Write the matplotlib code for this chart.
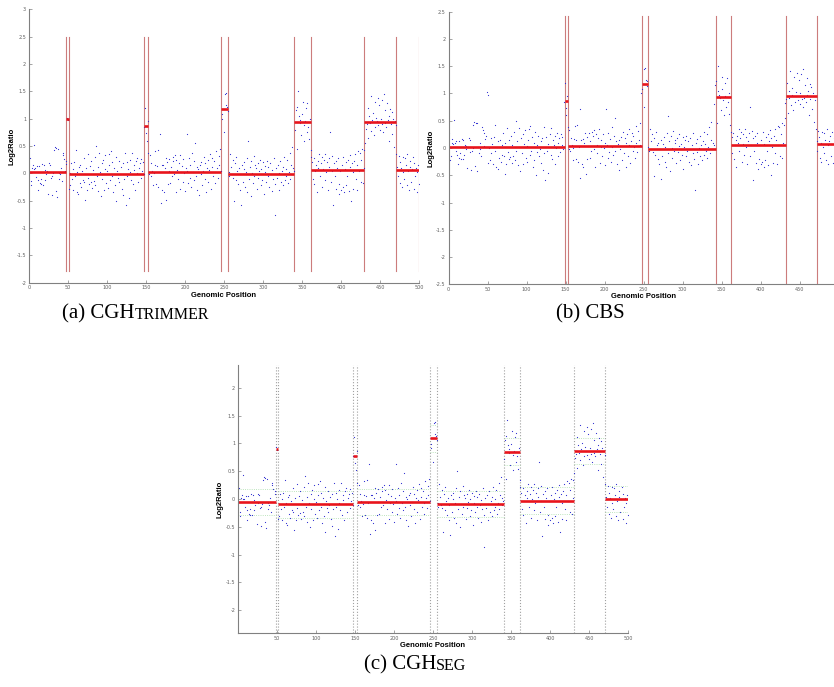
import numpy as np
import matplotlib
matplotlib.use("Agg")
import matplotlib.pyplot as plt
from matplotlib.ticker import FuncFormatter
from matplotlib.offsetbox import TextArea, HPacker, AnnotationBbox

plt.rcParams['axes.unicode_minus'] = False

# log2 ratios, probes 1..500, grouped by true segment
seg_0_48 = [0.28, -0.22, -0.14, 0.10, 0.16, 0.08, 0.52, 0.09, -0.06, 0.13,
            -0.12, -0.30, 0.13, -0.18, -0.10, -0.20, 0.17, -0.21, 0.15, -0.12,
            0.06, -0.02, 0.04, -0.37, 0.02, 0.18, 0.15, -0.08, -0.40, -0.05,
            0.00, 0.42, 0.48, -0.33, 0.46, -0.43, 0.45, 0.01, -0.10, -0.02,
            0.10, -0.14, 0.38, 0.33, 0.27, 0.04, 0.17, 0.22]
seg_49_50 = [1.02, 0.97]
seg_51_147 = [-0.28, 0.00, -0.22, 0.18, -0.10, 0.08, -0.30, 0.20, -0.05, 0.43,
              -0.35, 0.02, -0.38, 0.12, -0.18, 0.15, -0.25, 0.05, -0.12, 0.28,
              -0.15, -0.48, 0.10, -0.30, 0.36, -0.08, -0.20, 0.14, -0.16, 0.22,
              -0.27, 0.06, -0.14, 0.30, -0.22, 0.50, -0.05, 0.12, -0.32, 0.37,
              0.02, -0.42, 0.18, -0.10, 0.25, -0.30, 0.08, 0.33, -0.18, 0.04,
              -0.26, 0.15, 0.35, -0.12, 0.40, -0.05, 0.20, -0.35, 0.10, -0.22,
              0.30, -0.50, 0.05, -0.08, 0.22, -0.15, -0.02, 0.12, -0.28, 0.18,
              -0.40, -0.10, 0.38, -0.58, 0.20, -0.05, 0.08, -0.45, 0.02, 0.25,
              -0.12, 0.37, -0.20, 0.15, 0.06, -0.30, 0.22, 0.00, 0.28, -0.15,
              0.10, 0.18, -0.08, 0.26, 0.05, 0.20, -0.02]
seg_148_152 = [0.85, 1.20, 0.73, 0.60, 0.95]
seg_153_246 = [0.38, -0.02, 0.33, -0.05, 0.18, 0.05, -0.22, 0.00, 0.16, 0.40,
               -0.20, 0.14, 0.42, -0.25, 0.02, 0.72, -0.55, 0.15, -0.30, 0.16,
               -0.35, 0.10, 0.28, -0.48, 0.20, -0.20, 0.04, 0.27, -0.18, 0.12,
               -0.05, 0.30, 0.22, -0.02, 0.33, -0.35, 0.25, 0.06, -0.10, 0.18,
               0.34, -0.28, 0.02, 0.14, -0.15, 0.26, 0.00, -0.32, 0.10, 0.72,
               0.05, -0.18, 0.28, -0.08, 0.16, -0.25, 0.38, 0.02, -0.12, 0.22,
               0.55, -0.05, 0.12, -0.30, 0.08, -0.40, 0.15, -0.02, 0.20, -0.22,
               0.04, 0.30, -0.10, 0.18, -0.35, 0.10, 0.25, -0.15, 0.06, 0.35,
               -0.28, 0.12, 0.28, -0.05, 0.22, 0.02, -0.18, 0.40, 0.10, -0.08,
               0.32, 0.15, 0.45, 0.05]
seg_247_255 = [1.00, 1.08, 1.18, 0.75, 1.45, 1.47, 1.25, 1.22, 1.14]
seg_256_340 = [0.02, -0.05, 0.35, 0.12, -0.02, 0.25, -0.08, -0.51, 0.18, -0.12,
               0.30, 0.05, -0.20, 0.10, -0.30, -0.02, -0.57, 0.15, -0.15, 0.08,
               0.20, -0.25, 0.02, -0.35, 0.28, 0.59, -0.10, 0.12, -0.42, 0.22,
               0.00, -0.18, 0.32, -0.05, 0.15, 0.10, -0.28, 0.18, -0.08, 0.04,
               0.25, -0.22, 0.08, -0.12, 0.20, -0.38, 0.02, 0.14, -0.15, 0.22,
               -0.05, 0.12, -0.25, 0.18, -0.02, -0.32, 0.06, -0.10, 0.28, -0.20,
               -0.77, 0.10, -0.08, 0.16, -0.30, 0.00, 0.22, -0.15, 0.05, -0.22,
               0.12, 0.30, -0.12, 0.08, -0.05, 0.25, -0.18, 0.02, 0.38, -0.10,
               0.15, 0.48, -0.02, 0.10, 0.05]
seg_341_361 = [0.80, 1.15, 1.22, 0.45, 1.50, 1.05, 0.98, 0.92, 0.70, 1.08,
               1.30, 0.88, 0.60, 0.95, 1.20, 0.75, 1.28, 0.85, 0.62, 1.00, 0.42]
seg_362_430 = [0.30, 0.20, -0.10, 0.28, -0.20, 0.05, 0.15, -0.35, 0.22, 0.10,
               0.35, -0.05, 0.18, 0.30, -0.25, 0.08, 0.25, -0.12, 0.35, 0.02,
               0.20, -0.30, 0.12, 0.28, 0.75, -0.15, 0.05, 0.32, -0.58, 0.18,
               -0.05, 0.22, -0.28, 0.10, 0.28, -0.38, -0.20, 0.05, -0.30, 0.15,
               -0.25, 0.30, -0.35, 0.08, -0.22, 0.20, -0.05, 0.25, -0.32, 0.12,
               0.33, -0.50, 0.18, 0.02, -0.28, 0.22, 0.35, -0.10, 0.15, -0.30,
               0.40, 0.05, 0.38, -0.15, 0.25, 0.45, -0.18, 0.10, 0.42]
seg_431_470 = [0.55, 0.82, 0.90, 1.20, 0.65, 1.05, 0.92, 1.42, 0.78, 0.98,
               1.10, 0.70, 1.30, 0.85, 1.02, 0.95, 1.38, 0.88, 1.25, 0.80,
               1.00, 1.35, 0.90, 0.75, 1.45, 0.92, 1.15, 0.85, 1.28, 0.98,
               1.05, 0.60, 1.18, 0.90, 1.12, 0.72, 1.00, 0.48, 0.95, 0.88]
seg_471_500 = [0.35, 0.12, -0.05, 0.32, 0.20, -0.18, 0.10, -0.25, 0.30, 0.02,
               -0.10, 0.28, 0.15, -0.22, 0.35, 0.05, -0.30, 0.12, 0.22, -0.15,
               0.08, 0.30, -0.28, 0.18, -0.05, 0.10, -0.35, 0.02, 0.15, -0.20]

# CGHseg panel shows the same probes re-centred
cghseg_offset = -0.085

# segment calls: (start, end, level)
trimmer_segs = [(0, 48, 0.025), (48, 51, 1.0), (51, 147, -0.02), (147, 152, 0.86),
                (152, 246, 0.025), (246, 255, 1.17), (255, 340, -0.01), (340, 361, 0.94),
                (361, 430, 0.055), (430, 470, 0.945), (470, 500, 0.07)]
trimmer_breaks = [48, 51, 147, 152, 246, 255, 340, 361, 430, 470, 500]

cbs_segs = [(0, 149, 0.025), (149, 153, 0.87), (153, 248, 0.04), (248, 256, 1.17),
            (256, 343, -0.01), (343, 362, 0.94), (362, 433, 0.055), (433, 472, 0.95),
            (472, 500, 0.07)]
cbs_breaks = [149, 153, 248, 256, 343, 362, 433, 472]

cghseg_segs = [(0, 49, -0.055), (49, 51, 0.90), (51, 148, -0.095), (148, 152, 0.78),
               (152, 246, -0.055), (246, 255, 1.09), (255, 341, -0.09), (341, 361, 0.85),
               (361, 431, -0.03), (431, 471, 0.865), (471, 500, 0.0)]
cghseg_breaks = [49, 51, 148, 152, 246, 255, 341, 361, 431, 471]
cghseg_band = 0.24

log2 = np.concatenate([seg_0_48, seg_49_50, seg_51_147, seg_148_152, seg_153_246,
                       seg_247_255, seg_256_340, seg_341_361, seg_362_430,
                       seg_431_470, seg_471_500])
pos = np.arange(1, len(log2) + 1)

fig = plt.figure(figsize=(8.34, 6.87), dpi=100)

label_font = dict(family='Liberation Sans', weight='bold', size=5.5)
fmt = FuncFormatter(lambda v, p: '%g' % round(v, 2))


def style_axes(ax):
    for s in ['top', 'right']:
        ax.spines[s].set_visible(False)
    for s in ['left', 'bottom']:
        ax.spines[s].set_color('#808080')
        ax.spines[s].set_linewidth(0.8)
    ax.tick_params(direction='in', length=2.5, width=0.5, color='#808080',
                   labelsize=3.5, labelcolor='#606060', pad=2)
    ax.yaxis.set_major_formatter(fmt)
    ax.set_xlabel('Genomic Position', **label_font, labelpad=1)
    ax.set_ylabel('Log2Ratio', **label_font)
    ax.set_facecolor('white')


def draw_points(ax, y):
    ax.plot(pos, y, '.', color='#2a2ad0', markersize=1.7, markeredgewidth=0)


def draw_segs(ax, segs):
    for x0, x1, lev in segs:
        ax.plot([x0, x1], [lev, lev], color='#e8141c', lw=1.9, solid_capstyle='butt')


# (a) CGHtrimmer
ax1 = fig.add_axes([29 / 834, 1 - 282.7 / 687, 390 / 834, 273.4 / 687])
for b in trimmer_breaks:
    ax1.plot([b, b], [-1.78, 2.5], color='#cc7c7c', lw=0.8)
draw_points(ax1, log2)
draw_segs(ax1, trimmer_segs)
ax1.set_xlim(0, 500)
ax1.set_ylim(-2, 3)
ax1.set_xticks(np.arange(0, 501, 50))
ax1.set_yticks(np.arange(-2, 3.01, 0.5))
style_axes(ax1)
ax1.yaxis.set_label_coords(-14 / 390, 0.5)

# (b) CBS, its right end runs past the page edge
ax2 = fig.add_axes([448.5 / 834, 1 - 284.3 / 687, 390 / 834, 272.6 / 687])
for b in cbs_breaks:
    ax2.plot([b, b], [-2.5, 2.42], color='#cc7c7c', lw=0.8)
draw_points(ax2, log2)
draw_segs(ax2, cbs_segs)
ax2.set_xlim(0, 500)
ax2.set_ylim(-2.5, 2.5)
ax2.set_xticks(np.arange(0, 451, 50))
ax2.set_yticks(np.arange(-2.5, 2.51, 0.5))
style_axes(ax2)
ax2.yaxis.set_label_coords(-14 / 390, 0.5)

# (c) CGHseg
ax3 = fig.add_axes([238 / 834, 1 - 633 / 687, 390 / 834, 268 / 687])
for b in cghseg_breaks:
    ax3.axvline(b, color='#a0a0a0', lw=0.8, ls=':')
for x0, x1, lev in cghseg_segs:
    if x1 - x0 > 5:
        for d in (-cghseg_band, cghseg_band):
            ax3.plot([x0, x1], [lev + d, lev + d], color='#a8dca8', lw=0.6, ls=':')
draw_points(ax3, log2 + cghseg_offset)
draw_segs(ax3, cghseg_segs)
ax3.set_xlim(0, 500)
ax3.set_ylim(-2.41, 2.41)
ax3.set_xticks(np.arange(50, 501, 50))
ax3.set_yticks(np.arange(-2, 2.01, 0.5))
style_axes(ax3)
ax3.yaxis.set_label_coords(-15 / 390, 0.5)


def caption(x, y, big, small=None):
    parts = [TextArea(big, textprops=dict(fontsize=15, family='Liberation Serif'))]
    if small:
        parts.append(TextArea(small, textprops=dict(fontsize=11.5, family='Liberation Serif')))
    box = HPacker(children=parts, align='baseline', pad=0, sep=0)
    ab = AnnotationBbox(box, (x, y), xycoords='figure pixels', frameon=False,
                        box_alignment=(0.5, 0.5))
    fig.add_artist(ab)


caption(136, 687 - 314, '(a) CGH', 'TRIMMER')
caption(590, 687 - 314, '(b) CBS')
caption(415, 687 - 665, '(c) CGH', 'SEG')

fig.savefig('out.png', dpi=100)
